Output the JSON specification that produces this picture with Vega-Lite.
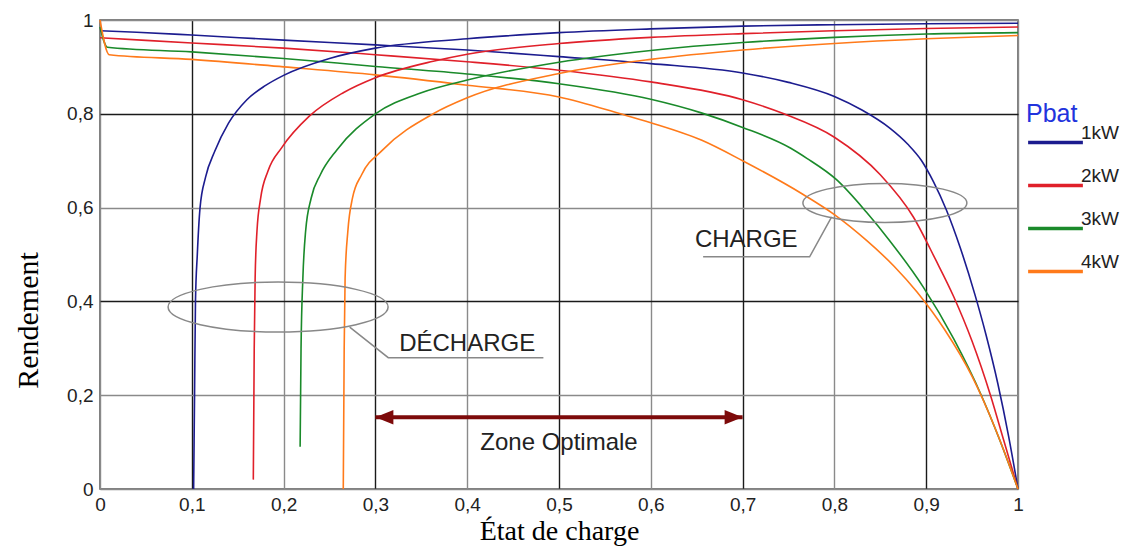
{
  "$schema": "https://vega.github.io/schema/vega-lite/v6.json",
  "width": 918,
  "height": 469,
  "autosize": {"type": "none"},
  "padding": {"left": 100, "top": 20, "right": 116, "bottom": 65},
  "background": "white",
  "config": {"view": {"stroke": "#555", "strokeWidth": 1.5}, "font": "Liberation Sans"},
  "datasets": {
    "curves": [
      {"pbat": "1kW", "mode": "charge", "x": 0, "y": 0.977},
      {"pbat": "1kW", "mode": "charge", "x": 0.04, "y": 0.974},
      {"pbat": "1kW", "mode": "charge", "x": 0.1, "y": 0.968},
      {"pbat": "1kW", "mode": "charge", "x": 0.2, "y": 0.957},
      {"pbat": "1kW", "mode": "charge", "x": 0.3, "y": 0.947},
      {"pbat": "1kW", "mode": "charge", "x": 0.4, "y": 0.936},
      {"pbat": "1kW", "mode": "charge", "x": 0.5, "y": 0.922},
      {"pbat": "1kW", "mode": "charge", "x": 0.6, "y": 0.907},
      {"pbat": "1kW", "mode": "charge", "x": 0.7, "y": 0.887},
      {"pbat": "1kW", "mode": "charge", "x": 0.75, "y": 0.867},
      {"pbat": "1kW", "mode": "charge", "x": 0.8, "y": 0.837},
      {"pbat": "1kW", "mode": "charge", "x": 0.83, "y": 0.808},
      {"pbat": "1kW", "mode": "charge", "x": 0.86, "y": 0.77},
      {"pbat": "1kW", "mode": "charge", "x": 0.88, "y": 0.735},
      {"pbat": "1kW", "mode": "charge", "x": 0.895, "y": 0.7},
      {"pbat": "1kW", "mode": "charge", "x": 0.908, "y": 0.655},
      {"pbat": "1kW", "mode": "charge", "x": 0.922, "y": 0.595},
      {"pbat": "1kW", "mode": "charge", "x": 0.937, "y": 0.515},
      {"pbat": "1kW", "mode": "charge", "x": 0.953, "y": 0.415},
      {"pbat": "1kW", "mode": "charge", "x": 0.965, "y": 0.33},
      {"pbat": "1kW", "mode": "charge", "x": 0.978, "y": 0.225},
      {"pbat": "1kW", "mode": "charge", "x": 0.99, "y": 0.11},
      {"pbat": "1kW", "mode": "charge", "x": 1.0, "y": 0.0},
      {"pbat": "2kW", "mode": "charge", "x": 0, "y": 0.962},
      {"pbat": "2kW", "mode": "charge", "x": 0.1, "y": 0.951},
      {"pbat": "2kW", "mode": "charge", "x": 0.2, "y": 0.94},
      {"pbat": "2kW", "mode": "charge", "x": 0.3, "y": 0.926},
      {"pbat": "2kW", "mode": "charge", "x": 0.4, "y": 0.911},
      {"pbat": "2kW", "mode": "charge", "x": 0.5, "y": 0.893},
      {"pbat": "2kW", "mode": "charge", "x": 0.6, "y": 0.868},
      {"pbat": "2kW", "mode": "charge", "x": 0.7, "y": 0.83},
      {"pbat": "2kW", "mode": "charge", "x": 0.745, "y": 0.8},
      {"pbat": "2kW", "mode": "charge", "x": 0.8, "y": 0.75},
      {"pbat": "2kW", "mode": "charge", "x": 0.85, "y": 0.67},
      {"pbat": "2kW", "mode": "charge", "x": 0.886, "y": 0.58},
      {"pbat": "2kW", "mode": "charge", "x": 0.91, "y": 0.49},
      {"pbat": "2kW", "mode": "charge", "x": 0.93, "y": 0.41},
      {"pbat": "2kW", "mode": "charge", "x": 0.95, "y": 0.315},
      {"pbat": "2kW", "mode": "charge", "x": 0.97, "y": 0.2},
      {"pbat": "2kW", "mode": "charge", "x": 0.985, "y": 0.1},
      {"pbat": "2kW", "mode": "charge", "x": 1.0, "y": 0.0},
      {"pbat": "3kW", "mode": "charge", "x": 0, "y": 0.985},
      {"pbat": "3kW", "mode": "charge", "x": 0.008, "y": 0.942},
      {"pbat": "3kW", "mode": "charge", "x": 0.1, "y": 0.932},
      {"pbat": "3kW", "mode": "charge", "x": 0.2, "y": 0.918},
      {"pbat": "3kW", "mode": "charge", "x": 0.3, "y": 0.901},
      {"pbat": "3kW", "mode": "charge", "x": 0.4, "y": 0.885},
      {"pbat": "3kW", "mode": "charge", "x": 0.5, "y": 0.864},
      {"pbat": "3kW", "mode": "charge", "x": 0.6, "y": 0.831},
      {"pbat": "3kW", "mode": "charge", "x": 0.655, "y": 0.802},
      {"pbat": "3kW", "mode": "charge", "x": 0.7, "y": 0.771},
      {"pbat": "3kW", "mode": "charge", "x": 0.752, "y": 0.727},
      {"pbat": "3kW", "mode": "charge", "x": 0.77, "y": 0.705},
      {"pbat": "3kW", "mode": "charge", "x": 0.802, "y": 0.66},
      {"pbat": "3kW", "mode": "charge", "x": 0.835, "y": 0.59},
      {"pbat": "3kW", "mode": "charge", "x": 0.86, "y": 0.53},
      {"pbat": "3kW", "mode": "charge", "x": 0.897, "y": 0.43},
      {"pbat": "3kW", "mode": "charge", "x": 0.93, "y": 0.32},
      {"pbat": "3kW", "mode": "charge", "x": 0.96, "y": 0.2},
      {"pbat": "3kW", "mode": "charge", "x": 0.98, "y": 0.105},
      {"pbat": "3kW", "mode": "charge", "x": 1.0, "y": 0.0},
      {"pbat": "4kW", "mode": "charge", "x": 0, "y": 1.0},
      {"pbat": "4kW", "mode": "charge", "x": 0.01, "y": 0.926},
      {"pbat": "4kW", "mode": "charge", "x": 0.1, "y": 0.916},
      {"pbat": "4kW", "mode": "charge", "x": 0.2, "y": 0.9},
      {"pbat": "4kW", "mode": "charge", "x": 0.3, "y": 0.883},
      {"pbat": "4kW", "mode": "charge", "x": 0.4, "y": 0.861},
      {"pbat": "4kW", "mode": "charge", "x": 0.5, "y": 0.836},
      {"pbat": "4kW", "mode": "charge", "x": 0.567, "y": 0.8},
      {"pbat": "4kW", "mode": "charge", "x": 0.6, "y": 0.781},
      {"pbat": "4kW", "mode": "charge", "x": 0.655, "y": 0.744},
      {"pbat": "4kW", "mode": "charge", "x": 0.7, "y": 0.7},
      {"pbat": "4kW", "mode": "charge", "x": 0.766, "y": 0.628},
      {"pbat": "4kW", "mode": "charge", "x": 0.8, "y": 0.585},
      {"pbat": "4kW", "mode": "charge", "x": 0.835, "y": 0.53},
      {"pbat": "4kW", "mode": "charge", "x": 0.865, "y": 0.475},
      {"pbat": "4kW", "mode": "charge", "x": 0.89, "y": 0.42},
      {"pbat": "4kW", "mode": "charge", "x": 0.92, "y": 0.34},
      {"pbat": "4kW", "mode": "charge", "x": 0.95, "y": 0.24},
      {"pbat": "4kW", "mode": "charge", "x": 0.975, "y": 0.13},
      {"pbat": "4kW", "mode": "charge", "x": 1.0, "y": 0.0},
      {"pbat": "1kW", "mode": "decharge", "x": 0.102, "y": 0.0},
      {"pbat": "1kW", "mode": "decharge", "x": 0.103, "y": 0.2},
      {"pbat": "1kW", "mode": "decharge", "x": 0.104, "y": 0.4},
      {"pbat": "1kW", "mode": "decharge", "x": 0.106, "y": 0.5},
      {"pbat": "1kW", "mode": "decharge", "x": 0.109, "y": 0.6},
      {"pbat": "1kW", "mode": "decharge", "x": 0.115, "y": 0.665},
      {"pbat": "1kW", "mode": "decharge", "x": 0.125, "y": 0.72},
      {"pbat": "1kW", "mode": "decharge", "x": 0.14, "y": 0.78},
      {"pbat": "1kW", "mode": "decharge", "x": 0.16, "y": 0.83},
      {"pbat": "1kW", "mode": "decharge", "x": 0.18, "y": 0.86},
      {"pbat": "1kW", "mode": "decharge", "x": 0.2, "y": 0.882},
      {"pbat": "1kW", "mode": "decharge", "x": 0.25, "y": 0.918},
      {"pbat": "1kW", "mode": "decharge", "x": 0.3, "y": 0.94},
      {"pbat": "1kW", "mode": "decharge", "x": 0.4, "y": 0.96},
      {"pbat": "1kW", "mode": "decharge", "x": 0.5, "y": 0.973},
      {"pbat": "1kW", "mode": "decharge", "x": 0.6, "y": 0.981},
      {"pbat": "1kW", "mode": "decharge", "x": 0.7, "y": 0.987},
      {"pbat": "1kW", "mode": "decharge", "x": 0.8, "y": 0.99},
      {"pbat": "1kW", "mode": "decharge", "x": 0.9, "y": 0.992},
      {"pbat": "1kW", "mode": "decharge", "x": 1.0, "y": 0.993},
      {"pbat": "2kW", "mode": "decharge", "x": 0.167, "y": 0.02},
      {"pbat": "2kW", "mode": "decharge", "x": 0.168, "y": 0.3},
      {"pbat": "2kW", "mode": "decharge", "x": 0.169, "y": 0.45},
      {"pbat": "2kW", "mode": "decharge", "x": 0.171, "y": 0.55},
      {"pbat": "2kW", "mode": "decharge", "x": 0.175, "y": 0.62},
      {"pbat": "2kW", "mode": "decharge", "x": 0.183, "y": 0.678},
      {"pbat": "2kW", "mode": "decharge", "x": 0.198, "y": 0.728},
      {"pbat": "2kW", "mode": "decharge", "x": 0.228, "y": 0.795},
      {"pbat": "2kW", "mode": "decharge", "x": 0.265, "y": 0.845},
      {"pbat": "2kW", "mode": "decharge", "x": 0.3, "y": 0.877},
      {"pbat": "2kW", "mode": "decharge", "x": 0.363, "y": 0.912},
      {"pbat": "2kW", "mode": "decharge", "x": 0.4, "y": 0.927},
      {"pbat": "2kW", "mode": "decharge", "x": 0.5, "y": 0.95},
      {"pbat": "2kW", "mode": "decharge", "x": 0.6, "y": 0.963},
      {"pbat": "2kW", "mode": "decharge", "x": 0.7, "y": 0.971},
      {"pbat": "2kW", "mode": "decharge", "x": 0.8, "y": 0.977},
      {"pbat": "2kW", "mode": "decharge", "x": 0.9, "y": 0.982},
      {"pbat": "2kW", "mode": "decharge", "x": 1.0, "y": 0.985},
      {"pbat": "3kW", "mode": "decharge", "x": 0.218, "y": 0.09},
      {"pbat": "3kW", "mode": "decharge", "x": 0.219, "y": 0.3},
      {"pbat": "3kW", "mode": "decharge", "x": 0.221, "y": 0.45},
      {"pbat": "3kW", "mode": "decharge", "x": 0.224, "y": 0.55},
      {"pbat": "3kW", "mode": "decharge", "x": 0.23, "y": 0.62},
      {"pbat": "3kW", "mode": "decharge", "x": 0.24, "y": 0.67},
      {"pbat": "3kW", "mode": "decharge", "x": 0.258, "y": 0.723},
      {"pbat": "3kW", "mode": "decharge", "x": 0.3, "y": 0.8},
      {"pbat": "3kW", "mode": "decharge", "x": 0.35, "y": 0.845},
      {"pbat": "3kW", "mode": "decharge", "x": 0.4, "y": 0.872},
      {"pbat": "3kW", "mode": "decharge", "x": 0.5, "y": 0.91},
      {"pbat": "3kW", "mode": "decharge", "x": 0.6, "y": 0.935},
      {"pbat": "3kW", "mode": "decharge", "x": 0.7, "y": 0.952},
      {"pbat": "3kW", "mode": "decharge", "x": 0.8, "y": 0.963},
      {"pbat": "3kW", "mode": "decharge", "x": 0.9, "y": 0.97},
      {"pbat": "3kW", "mode": "decharge", "x": 1.0, "y": 0.973},
      {"pbat": "4kW", "mode": "decharge", "x": 0.265, "y": 0.0},
      {"pbat": "4kW", "mode": "decharge", "x": 0.266, "y": 0.3},
      {"pbat": "4kW", "mode": "decharge", "x": 0.267, "y": 0.45},
      {"pbat": "4kW", "mode": "decharge", "x": 0.27, "y": 0.55},
      {"pbat": "4kW", "mode": "decharge", "x": 0.275, "y": 0.62},
      {"pbat": "4kW", "mode": "decharge", "x": 0.285, "y": 0.67},
      {"pbat": "4kW", "mode": "decharge", "x": 0.308, "y": 0.723},
      {"pbat": "4kW", "mode": "decharge", "x": 0.363, "y": 0.8},
      {"pbat": "4kW", "mode": "decharge", "x": 0.4, "y": 0.834},
      {"pbat": "4kW", "mode": "decharge", "x": 0.5, "y": 0.886},
      {"pbat": "4kW", "mode": "decharge", "x": 0.6, "y": 0.916},
      {"pbat": "4kW", "mode": "decharge", "x": 0.7, "y": 0.936},
      {"pbat": "4kW", "mode": "decharge", "x": 0.8, "y": 0.95},
      {"pbat": "4kW", "mode": "decharge", "x": 0.9, "y": 0.96},
      {"pbat": "4kW", "mode": "decharge", "x": 1.0, "y": 0.967}
    ],
    "leaders": [
      {"id": "decharge", "x": 0.272, "y": 0.345},
      {"id": "decharge", "x": 0.314, "y": 0.28},
      {"id": "decharge", "x": 0.483, "y": 0.28},
      {"id": "charge", "x": 0.657, "y": 0.495},
      {"id": "charge", "x": 0.773, "y": 0.495},
      {"id": "charge", "x": 0.797, "y": 0.58}
    ],
    "labels": [
      {"text": "DÉCHARGE", "x": 0.4, "y": 0.31},
      {"text": "CHARGE", "x": 0.704, "y": 0.531},
      {"text": "Zone Optimale", "x": 0.5, "y": 0.098}
    ],
    "zone": [{"x": 0.3, "x2": 0.7, "y": 0.153}],
    "heads": [
      {"end": "left", "x": 0.3, "y": 0.153},
      {"end": "right", "x": 0.7, "y": 0.153}
    ]
  },
  "encoding": {
    "x": {
      "field": "x",
      "type": "quantitative",
      "scale": {"domain": [0, 1], "nice": false, "zero": false},
      "axis": {
        "title": "État de charge",
        "values": [0, 0.1, 0.2, 0.3, 0.4, 0.5, 0.6, 0.7, 0.8, 0.9, 1],
        "labelExpr": "replace(format(datum.value, '~g'), '.', ',')",
        "labelFlush": false,
        "labelOverlap": false,
        "grid": true,
        "gridColor": {"condition": {"test": "round(datum.value * 10) % 2 == 1", "value": "#1a1a1a"}, "value": "#8a8a8a"},
        "gridWidth": 1.4,
        "ticks": false,
        "domain": false,
        "labelFont": "Liberation Sans",
        "labelFontSize": 19,
        "labelColor": "#222",
        "labelPadding": 6,
        "titleFont": "Liberation Serif",
        "titleFontSize": 28,
        "titleFontWeight": "normal",
        "titleColor": "#000",
        "titlePadding": 3
      }
    },
    "y": {
      "field": "y",
      "type": "quantitative",
      "scale": {"domain": [0, 1], "nice": false, "zero": false},
      "axis": {
        "title": "Rendement",
        "values": [0, 0.2, 0.4, 0.6, 0.8, 1],
        "labelExpr": "replace(format(datum.value, '~g'), '.', ',')",
        "labelFlush": false,
        "labelOverlap": false,
        "grid": true,
        "gridColor": {"condition": {"test": "round(datum.value * 10) == 4 || round(datum.value * 10) == 8", "value": "#1a1a1a"}, "value": "#8a8a8a"},
        "gridWidth": 1.4,
        "ticks": false,
        "domain": false,
        "labelFont": "Liberation Sans",
        "labelFontSize": 19,
        "labelColor": "#222",
        "labelPadding": 7,
        "titleFont": "Liberation Serif",
        "titleFontSize": 30,
        "titleFontWeight": "normal",
        "titleColor": "#000",
        "titleX": -72,
        "titleY": 300,
        "titleAlign": "center",
        "titleBaseline": "middle",
        "titleAngle": -90
      }
    }
  },
  "layer": [
    {
      "data": {"name": "curves"},
      "mark": {"type": "line", "strokeWidth": 1.6, "interpolate": "monotone"},
      "encoding": {
        "color": {
          "field": "pbat",
          "type": "nominal",
          "scale": {"domain": ["1kW", "2kW", "3kW", "4kW"], "range": ["#1c1c8f", "#e0202a", "#1a8a2a", "#ff7a1a"]},
          "legend": {
            "title": "Pbat",
            "orient": "none",
            "legendX": 926,
            "legendY": 82,
            "symbolType": "stroke",
            "symbolSize": 3000,
            "symbolStrokeWidth": 3.5,
            "titleFont": "Liberation Sans",
            "titleFontSize": 25,
            "titleFontWeight": "normal",
            "titleColor": "#2233dd",
            "titlePadding": -14,
            "labelFont": "Liberation Sans",
            "labelFontSize": 19,
            "labelColor": "#222",
            "labelOffset": -4,
            "labelBaseline": "bottom",
            "rowPadding": 6
          }
        },
        "detail": {"field": "mode"}
      }
    },
    {
      "data": {"values": [{"x": 0.194, "y": 0.388}]},
      "mark": {
        "type": "point",
        "filled": false,
        "stroke": "#888",
        "strokeWidth": 1.5,
        "opacity": 1,
        "size": 48400,
        "shape": "M -1 0 C -1 -0.1254 -0.5523 -0.227 0 -0.227 C 0.5523 -0.227 1 -0.1254 1 0 C 1 0.1254 0.5523 0.227 0 0.227 C -0.5523 0.227 -1 0.1254 -1 0 Z"
      }
    },
    {
      "data": {"values": [{"x": 0.855, "y": 0.61}]},
      "mark": {
        "type": "point",
        "filled": false,
        "stroke": "#888",
        "strokeWidth": 1.5,
        "opacity": 1,
        "size": 26896,
        "shape": "M -1 0 C -1 -0.1314 -0.5523 -0.238 0 -0.238 C 0.5523 -0.238 1 -0.1314 1 0 C 1 0.1314 0.5523 0.238 0 0.238 C -0.5523 0.238 -1 0.1314 -1 0 Z"
      }
    },
    {
      "data": {"name": "leaders"},
      "mark": {"type": "line", "stroke": "#888", "strokeWidth": 1.5},
      "encoding": {"detail": {"field": "id"}}
    },
    {
      "data": {"name": "labels"},
      "mark": {"type": "text", "font": "Liberation Sans", "fontSize": 24, "fill": "#222", "align": "center", "baseline": "middle"},
      "encoding": {"text": {"field": "text"}}
    },
    {
      "data": {"name": "zone"},
      "mark": {"type": "rule", "stroke": "#7d0a0a", "strokeWidth": 4},
      "encoding": {"x2": {"field": "x2"}}
    },
    {
      "data": {"name": "heads"},
      "mark": {"type": "point", "filled": true, "fill": "#7d0a0a", "opacity": 1, "size": 324},
      "encoding": {
        "shape": {
          "field": "end",
          "type": "nominal",
          "scale": {"domain": ["left", "right"], "range": ["M 0 0 L 2 -0.8 L 2 0.8 Z", "M 0 0 L -2 -0.8 L -2 0.8 Z"]},
          "legend": null
        }
      }
    }
  ]
}
